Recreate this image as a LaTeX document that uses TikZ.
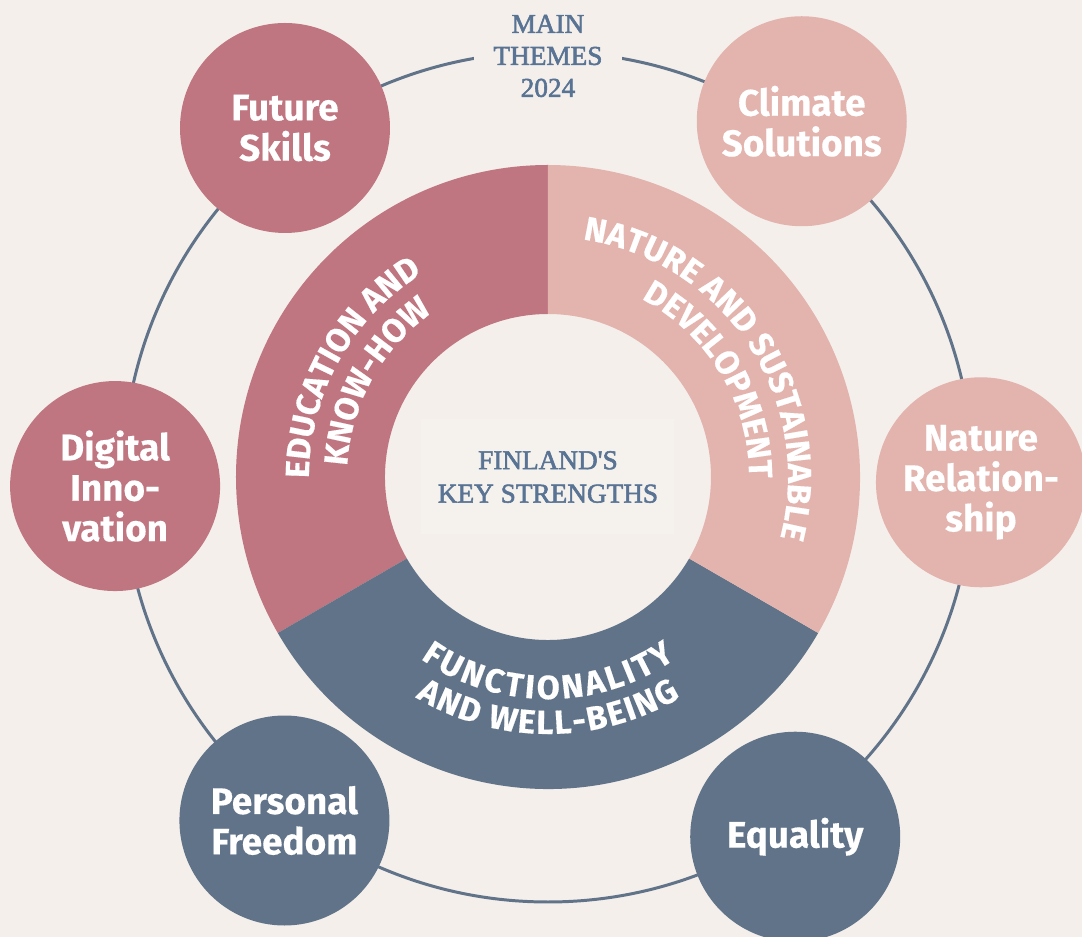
\documentclass[tikz,border=0pt]{standalone}
\usepackage{fontspec}
\setmainfont{Liberation Serif}
\newfontfamily\themeserif{Liberation Serif}[FakeBold=2]
\newfontfamily\themesans{Fira Sans}[FakeBold=0.4]
\usetikzlibrary{decorations.text}

\definecolor{bg}{HTML}{F4EFEB}
\definecolor{bglight}{HTML}{F5F1ED}
\definecolor{rose}{HTML}{BF7681}
\definecolor{blush}{HTML}{E3B3AE}
\definecolor{slate}{HTML}{617389}
\definecolor{ink}{HTML}{587393}

\tikzset{
  theme/.style={circle, minimum size=4.2cm, inner sep=0pt, text=white, align=center,
    font=\themesans\bfseries\fontsize{21}{23}\selectfont},
  arclabel/.style={decorate, decoration={text along path, text align=center, text color=white,
    text={|\themesans\bfseries\fontsize{19}{19}\selectfont|#1}}},
  arcfit/.style={arclabel={#1}, decoration={text align=fit to path}}
}

\begin{document}
\begin{tikzpicture}
\path[use as bounding box, fill=bg] (-10.96,-9.2) rectangle (10.68,9.54);

\coordinate (O) at (0,0);

\draw[slate, line width=1.7pt] (O) circle (8.5);

\fill[rose] (90:6.24) arc[start angle=90, end angle=210, radius=6.24]
  -- (210:3.26) arc[start angle=210, end angle=90, radius=3.26] -- cycle;
\fill[slate] (210:6.24) arc[start angle=210, end angle=330, radius=6.24]
  -- (330:3.26) arc[start angle=330, end angle=210, radius=3.26] -- cycle;
\fill[blush] (-30:6.24) arc[start angle=-30, end angle=90, radius=6.24]
  -- (90:3.26) arc[start angle=90, end angle=-30, radius=3.26] -- cycle;

\path[arclabel={EDUCATION AND}] (211:4.78) arc[start angle=211, end angle=91, radius=4.78];
\path[arclabel={KNOW-HOW}] (211:4.02) arc[start angle=211, end angle=91, radius=4.02];
\path[arclabel={NATURE AND SUSTAINABLE}] (93.5:4.8) arc[start angle=93.5, end angle=-26.5, radius=4.8];
\path[arclabel={DEVELOPMENT}] (91:4.02) arc[start angle=91, end angle=-29, radius=4.02];
\path[arcfit={FUNCTIONALITY}] (235:4.44) arc[start angle=235, end angle=305, radius=4.44];
\path[arcfit={AND WELL-BEING}] (239:5.14) arc[start angle=239, end angle=301, radius=5.14];

\node[fill=bglight, minimum width=5.06cm, minimum height=2.3cm, text=ink, align=center,
  font=\themeserif\fontsize{15.5}{19}\selectfont] (strengths) at (O) {FINLAND\textquotesingle S\\KEY STRENGTHS};

\node[fill=bg, inner xsep=11pt, inner ysep=2pt, text=ink, align=center,
  font=\themeserif\fontsize{15.5}{18.2}\selectfont] (mainthemes) at (0,8.42) {MAIN\\THEMES\\2024};

\node[theme, fill=rose] (future) at (127:8.74) {Future\\Skills};
\node[theme, fill=blush] (climate) at (54.5:8.74) {Climate\\Solutions};
\node[theme, fill=rose] (digital) at (181.2:8.66) {Digital\\Inno-\\vation};
\node[theme, fill=blush] (naturerel) at (-0.7:8.66) {Nature\\Relation-\\ship};
\node[theme, fill=slate] (freedom) at (232.5:8.66) {Personal\\Freedom};
\node[theme, fill=slate] (equality) at (-55.5:8.73) {Equality};
\end{tikzpicture}
\end{document}
